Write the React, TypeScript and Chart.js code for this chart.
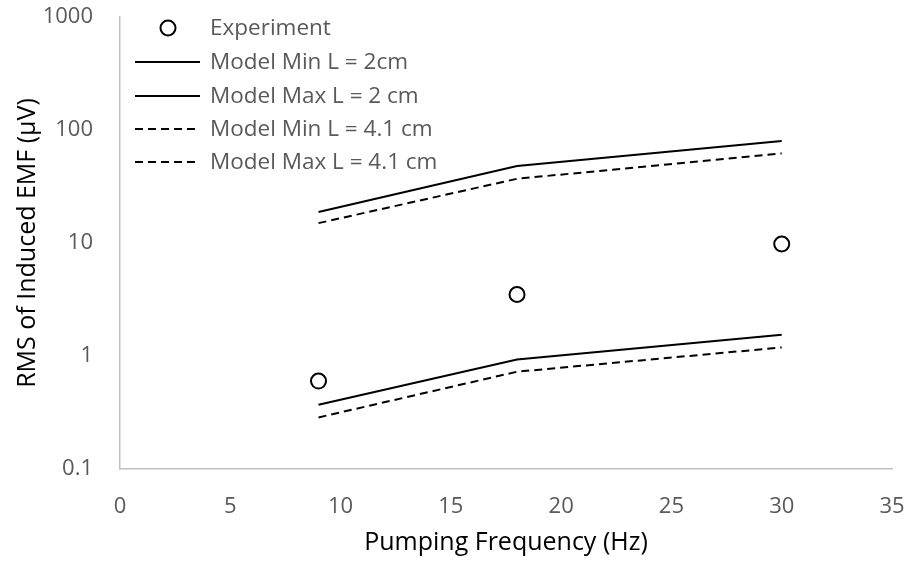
import React, { useEffect, useRef } from "react";
import { Chart, registerables } from "chart.js";

Chart.register(...registerables);

const frequencies = [9, 18, 30];
const experiment = [0.6, 3.5, 9.8];
const modelMin2 = [0.37, 0.93, 1.54];
const modelMax2 = [18.8, 48, 80];
const modelMin41 = [0.286, 0.726, 1.19];
const modelMax41 = [15, 37, 62];
const xTicks = [0, 5, 10, 15, 20, 25, 30, 35];
const yTicks = [0.1, 1, 10, 100, 1000];

const legendLabels = [
  "Experiment",
  "Model Min L = 2cm",
  "Model Max L = 2 cm",
  "Model Min L = 4.1 cm",
  "Model Max L = 4.1 cm",
];

const FONT = "'Open Sans', sans-serif";
const DASH = [8, 5];

const toPts = (ys: number[]) => frequencies.map((x, i) => ({ x, y: ys[i] }));

const legendPlugin = {
  id: "customLegend",
  afterDraw(chart: any) {
    const ctx = chart.ctx;
    ctx.save();
    const rowY = [28, 62, 96, 129, 162];
    ctx.font = `22.5px ${FONT}`;
    ctx.textBaseline = "middle";
    ctx.textAlign = "left";
    legendLabels.forEach((lab, i) => {
      const y = rowY[i];
      ctx.strokeStyle = "#000";
      ctx.lineWidth = 2;
      if (i === 0) {
        ctx.setLineDash([]);
        ctx.beginPath();
        ctx.arc(168, y, 7.5, 0, Math.PI * 2);
        ctx.fillStyle = "#fff";
        ctx.fill();
        ctx.stroke();
      } else {
        ctx.setLineDash(i >= 3 ? DASH : []);
        ctx.beginPath();
        ctx.moveTo(135, y);
        ctx.lineTo(200, y);
        ctx.stroke();
        ctx.setLineDash([]);
      }
      ctx.fillStyle = "#595959";
      ctx.fillText(lab, 210, y + 1);
    });
    ctx.restore();
  },
};

const zeroPad = (s: any) => {
  s.paddingTop = 0;
  s.paddingBottom = 0;
  s.paddingLeft = 0;
  s.paddingRight = 0;
};

export default function App() {
  const ref = useRef<HTMLCanvasElement | null>(null);
  useEffect(() => {
    if (!ref.current) return;
    const lineDs = (label: string, data: number[], dashed: boolean) => ({
      type: "line" as const,
      label,
      data: toPts(data),
      borderColor: "#000",
      borderWidth: 2,
      borderDash: dashed ? DASH : [],
      pointRadius: 0,
      showLine: true,
      fill: false,
      tension: 0,
    });
    const chart = new Chart(ref.current, {
      type: "scatter",
      data: {
        datasets: [
          {
            label: legendLabels[0],
            data: toPts(experiment),
            pointStyle: "circle",
            pointRadius: 7.5,
            pointBorderWidth: 2,
            pointBackgroundColor: "#fff",
            pointBorderColor: "#000",
            backgroundColor: "#fff",
            borderColor: "#000",
            showLine: false,
          } as any,
          lineDs(legendLabels[1], modelMin2, false),
          lineDs(legendLabels[2], modelMax2, false),
          lineDs(legendLabels[3], modelMin41, true),
          lineDs(legendLabels[4], modelMax41, true),
        ],
      },
      options: {
        responsive: false,
        animation: false,
        layout: { padding: { left: 0, right: 17, top: 17, bottom: 0 } },
        plugins: {
          legend: { display: false },
          tooltip: { enabled: false },
        },
        scales: {
          x: {
            type: "linear",
            min: 0,
            max: 35,
            afterBuildTicks: (s: any) => {
              s.ticks = xTicks.map((v) => ({ value: v }));
            },
            afterFit: (s: any) => {
              s.height = 92;
              zeroPad(s);
            },
            ticks: {
              font: { family: FONT, size: 22 },
              color: "#595959",
              padding: 25,
              callback: (v: any) => String(v),
            },
            grid: { display: true, drawOnChartArea: false, drawTicks: false },
            border: { display: true, color: "#c0c0c0", width: 1.5 },
            title: {
              display: true,
              text: "Pumping Frequency (Hz)",
              font: { family: FONT, size: 25 },
              color: "#000",
              padding: { top: 0, bottom: 3 },
            },
          },
          y: {
            type: "logarithmic",
            min: 0.1,
            max: 1000,
            afterBuildTicks: (s: any) => {
              s.ticks = yTicks.map((v) => ({ value: v }));
            },
            afterFit: (s: any) => {
              s.width = 120;
              zeroPad(s);
            },
            ticks: {
              font: { family: FONT, size: 22 },
              color: "#595959",
              padding: 27,
              autoSkip: false,
              callback: (v: any) => String(v),
            },
            grid: { display: true, drawOnChartArea: false, drawTicks: false },
            border: { display: true, color: "#c0c0c0", width: 1.5 },
            title: {
              display: true,
              text: "RMS of Induced EMF (μV)",
              font: { family: FONT, size: 25 },
              color: "#000",
              padding: { top: 13, bottom: 0 },
            },
          },
        },
      },
      plugins: [legendPlugin],
    });
    return () => chart.destroy();
  }, []);
  return (
    <div style={{ position: "fixed", left: 0, top: 0, width: 909, height: 561, background: "#fff" }}>
      <canvas ref={ref} width={909} height={561} />
    </div>
  );
}
